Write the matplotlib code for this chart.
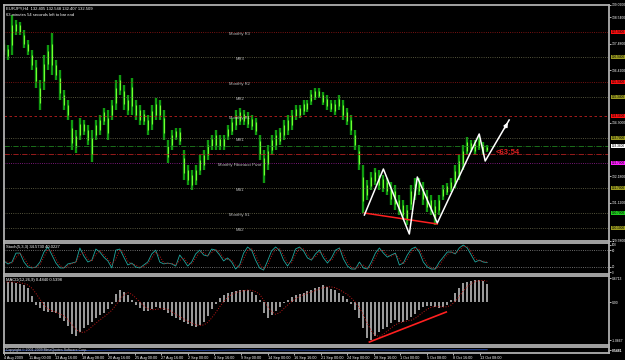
import numpy as np
import pandas as pd
import matplotlib
matplotlib.use("Agg")
import matplotlib.pyplot as plt
from matplotlib.transforms import blended_transform_factory

# EURJPY H4, one plotted bar per ~2.4 real bars
bar_high = [137.62, 137.42, 138.62, 138.42, 138.34, 138.02, 137.62, 137.22, 136.82, 136.02,
            137.02, 137.42, 137.90, 136.82, 136.42, 135.62, 135.22, 134.42, 134.02, 134.50,
            134.42, 134.22, 134.02, 134.42, 134.62, 134.90, 134.82, 135.22, 136.02, 136.22,
            135.82, 135.42, 136.10, 135.22, 135.02, 134.82, 134.62, 135.02, 135.30, 135.22,
            134.82, 133.62, 134.02, 134.10, 134.10, 133.22, 132.62, 132.42, 132.62, 133.02,
            133.22, 133.62, 133.82, 134.02, 133.82, 133.82, 134.22, 134.50, 134.82, 134.90,
            134.82, 134.74, 134.62, 134.50, 133.82, 133.22, 133.42, 133.82, 134.02, 134.10,
            134.42, 134.62, 134.82, 135.02, 135.02, 135.22, 135.22, 135.62, 135.70, 135.70,
            135.54, 135.42, 135.22, 135.22, 135.42, 135.22, 134.90, 134.62, 134.02, 133.42,
            132.62, 132.02, 132.34, 132.50, 132.42, 132.22, 132.10, 131.94, 131.82, 131.42,
            131.22, 131.02, 131.82, 132.10, 132.10, 131.94, 131.62, 131.42, 131.22, 131.42,
            131.82, 131.90, 132.10, 132.62, 133.02, 133.42, 133.74, 133.62, 133.62, 133.74,
            133.54, 133.42]
bar_low = [137.02, 136.82, 137.02, 137.82, 137.82, 137.30, 137.02, 136.42, 135.70, 134.82,
           135.62, 136.42, 136.22, 136.02, 135.22, 134.82, 134.42, 133.22, 133.10, 133.62,
           133.82, 133.42, 132.74, 133.62, 133.82, 134.22, 133.62, 134.42, 134.82, 135.42,
           134.82, 134.62, 134.62, 134.42, 134.22, 134.22, 133.82, 134.02, 134.42, 134.42,
           133.62, 132.70, 133.22, 133.62, 133.42, 132.02, 131.82, 131.62, 131.82, 132.22,
           132.42, 132.82, 133.22, 133.22, 133.22, 133.22, 133.62, 133.82, 134.02, 134.22,
           134.22, 134.10, 134.02, 133.82, 132.82, 131.90, 132.42, 133.02, 133.22, 133.42,
           133.62, 133.82, 134.02, 134.42, 134.50, 134.62, 134.74, 135.02, 135.22, 135.30,
           135.02, 134.82, 134.74, 134.62, 134.82, 134.42, 134.22, 133.82, 133.22, 132.42,
           130.70, 131.22, 131.62, 131.82, 131.62, 131.54, 131.42, 131.02, 130.82, 130.62,
           130.42, 130.22, 130.82, 131.22, 131.42, 131.02, 130.74, 130.62, 130.22, 130.62,
           131.22, 131.42, 131.54, 131.70, 132.02, 132.42, 133.02, 133.14, 133.02, 133.22,
           133.02, 133.14]

stoch_k = [40.7, 29.6, 37, 70, 70, 37, 18.5, 15, 18.5, 37, 74, 92.5, 63, 33, 15, 15, 30, 33, 37, 89,
           59, 37, 44, 85, 74, 55, 41, 15, 81, 85, 55, 26, 33, 18.5, 15, 26, 37, 67, 81, 37,
           30, 33, 30, 22, 63, 44, 22, 37, 67, 81, 63, 59, 85, 81, 63, 41, 52, 37, 11, 26,
           70, 92.5, 81, 44, 15, 7, 41, 78, 92.5, 81, 44, 22, 44, 85, 92.5, 78, 52, 44, 67, 81,
           52, 33, 52, 81, 89, 48, 22, 11, 11, 37, 15, 11, 37, 70, 89, 70, 55, 63, 70, 26,
           33, 63, 85, 92.5, 74, 37, 18.5, 11, 11, 37, 55, 74, 74, 67, 89, 100, 89, 63, 37, 44,
           37, 35]

macd = [0.56, 0.56, 0.56, 0.53, 0.50, 0.48, 0.39, 0.17, -0.08, -0.17, -0.25, -0.28, -0.28, -0.31,
        -0.45, -0.53, -0.67, -0.90, -0.95, -0.84, -0.73, -0.64, -0.56, -0.45, -0.36, -0.31, -0.20,
        -0.06, 0.22, 0.34, 0.28, 0.20, 0.06, -0.08, -0.17, -0.25, -0.25, -0.20, -0.14, -0.17, -0.22,
        -0.31, -0.39, -0.45, -0.50, -0.56, -0.62, -0.67, -0.70, -0.64, -0.56, -0.39, -0.20, -0.06,
        0.11, 0.20, 0.25, 0.28, 0.31, 0.34, 0.34, 0.34, 0.28, 0.20, 0.06, -0.31, -0.45, -0.36, -0.25,
        -0.14, -0.03, 0.06, 0.14, 0.20, 0.22, 0.25, 0.31, 0.34, 0.39, 0.42, 0.48, 0.42, 0.36, 0.34,
        0.25, 0.17, 0.08, -0.06, -0.22, -0.45, -0.73, -1.01, -1.06, -0.95, -0.84, -0.76, -0.70,
        -0.59, -0.50, -0.56, -0.56, -0.50, -0.42, -0.34, -0.22, -0.14, -0.11, -0.11, -0.14, -0.17,
        -0.14, -0.08, 0.06, 0.25, 0.39, 0.53, 0.56, 0.59, 0.62, 0.62, 0.59, 0.50]

demarker = [0.45, 0.48, 0.42, 0.50, 0.47, 0.44, 0.52, 0.49, 0.46, 0.51, 0.48, 0.53, 0.55]
demarker_bar = [0, 10, 20, 30, 40, 50, 60, 70, 80, 90, 100, 110, 121]

# hand-drawn zigzag and divergence lines
zz_bar = [90.25, 95, 101.5, 103.5, 108.5, 119, 120.5]
zz_price = [130.62, 132.46, 129.86, 132.14, 130.30, 133.86, 132.78]
arrow_tip = (126.5, 134.42)
div_bar = [90.25, 108.5]
div_price = [130.70, 130.26]
macd_div_bar = [91.5, 110.75]
macd_div_val = [-1.12, -0.28]

# monthly pivot levels: price, line color, style, box color, caption
levels = [
    (137.94, "#a01818", ":", "#ff1010", "Monthly R3"),
    (136.94, "#707050", ":", "#9a9a20", "MR3"),
    (135.94, "#a01818", ":", "#ff1010", "Monthly R2"),
    (135.34, "#707050", ":", "#9a9a20", "MR2"),
    (134.58, "#c02020", (0, (3, 3)), "#ff1010", "Monthly R1"),
    (133.70, "#707050", ":", "#9a9a20", "MR1"),
    (133.38, "#208020", "-.", "#ffffff", ""),
    (133.06, "#b02020", "-.", None, ""),
    (132.70, "#a020a0", ":", "#ff20ff", "Monthly Fibonacci Pivot"),
    (131.70, "#707050", ":", "#9a9a20", "MS1"),
    (130.70, "#707050", ":", "#20d020", "Monthly S1"),
    (130.10, "#707050", ":", "#9a9a20", "MS2"),
]
price_ticks = [139.02, 138.54, 137.48, 136.42, 134.30, 132.18, 131.12, 129.58]

date_labels = ["4 Aug 2009", "11 Aug 00:00", "13 Aug 16:00", "18 Aug 08:00", "20 Aug 16:00",
               "25 Aug 00:00", "27 Aug 16:00", "2 Sep 00:00", "4 Sep 16:00", "9 Sep 00:00",
               "14 Sep 00:00", "16 Sep 16:00", "21 Sep 00:00", "24 Sep 00:00", "28 Sep 16:00",
               "1 Oct 00:00", "5 Oct 08:00", "8 Oct 16:00", "13 Oct 08:00"]

plt.rcParams["font.family"] = ["Liberation Sans", "DejaVu Sans"]

W, H = 625, 360
FS = 3.0
AXFS = 2.4
GRID = "#b0b0b0"


def px_axes(fig, x0, y0, x1, y1):
    ax = fig.add_axes([x0 / W, 1 - y1 / H, (x1 - x0) / W, (y1 - y0) / H])
    ax.set_facecolor("black")
    for s in ax.spines.values():
        s.set_color(GRID)
        s.set_linewidth(1.3)
    ax.set_xlim(0, 151.5)
    ax.tick_params(axis="x", bottom=False, labelbottom=False)
    ax.yaxis.tick_right()
    ax.tick_params(axis="y", colors="white", labelsize=AXFS, length=1.5, width=0.5, pad=0.8)
    return ax


fig = plt.figure(figsize=(W / 100, H / 100), dpi=100, facecolor="black")

# --- main price window ---
ax = px_axes(fig, 4, 5, 609, 241)
ax.set_ylim(129.58, 139.02)
ax.set_yticks(price_ticks)
ax.set_yticklabels([f"{v:.4f}" for v in price_ticks])
x = np.arange(len(bar_high))
hi = np.array(bar_high)
lo = np.array(bar_low)
ax.vlines(x, lo, hi, color="#109a10", lw=1.7)
ax.vlines(x, lo + 0.25 * (hi - lo), hi - 0.25 * (hi - lo), color="#70ff30", lw=0.8)

yx = blended_transform_factory(ax.transAxes, ax.transData)
for price, lc, ls, box, cap in levels:
    ax.axhline(price, color=lc, ls=ls, lw=0.6)
    if cap:
        ax.text(59, price - 0.06, cap, color="#c0c0c0", fontsize=FS, ha="center", va="center")
    if box:
        ax.text(1.0045, price, f"{price:.4f}", transform=yx, color="black", fontsize=AXFS * 0.95,
                ha="left", va="center", clip_on=False,
                bbox=dict(boxstyle="square,pad=0.12", fc=box, ec="none"))

ax.plot(div_bar, div_price, color="#ff2020", lw=1.1)
ax.plot(zz_bar + [arrow_tip[0]], zz_price + [arrow_tip[1]], color="white", lw=1.1)
ax.annotate("", xy=arrow_tip, xytext=(zz_bar[-1] + 4.5, zz_price[-1] + 1.2),
            arrowprops=dict(arrowstyle="-|>", color="white", lw=1.0, mutation_scale=6))
ax.text(123.2, 133.12, "<63:54", color="#e02020", fontsize=5.5, ha="left", va="center",
        fontweight="bold")
ax.text(0.004, 0.995, "EURJPY,H4  132.405 132.548 132.407 132.509", transform=ax.transAxes,
        color="white", fontsize=FS, ha="left", va="top")
ax.text(0.004, 0.968, "63 minutes 54 seconds left to bar end", transform=ax.transAxes,
        color="white", fontsize=FS, ha="left", va="top")

# --- stochastic window ---
ax2 = px_axes(fig, 4, 243, 609, 274)
ax2.set_ylim(-7.4, 107.4)
ax2.set_yticks([100, 80, 20, 0])
ax2.set_yticklabels(["100", "80", "20", "0"])
ax2.tick_params(axis="y", labelsize=AXFS * 0.85)
k = pd.Series(stoch_k)
ax2.axhline(80, color="#909090", ls=":", lw=0.6)
ax2.axhline(20, color="#909090", ls=":", lw=0.6)
ax2.plot(k.index, k.values, color="#20a8a0", lw=0.6)
ax2.plot(k.index, k.rolling(2, min_periods=1).mean(), color="#c01818", ls=":", lw=0.7)
ax2.text(0.004, 0.93, "Stoch(5,3,3) 34.5730 40.0227", transform=ax2.transAxes,
         color="white", fontsize=FS, ha="left", va="top")

# --- MACD window ---
ax3 = px_axes(fig, 4, 276, 609, 345)
ax3.set_ylim(-1.204, 0.728)
ax3.set_yticks([0.6713, 0.0, -1.0667])
ax3.set_yticklabels(["0.6713", "0.00", "-1.0667"])
m = pd.Series(macd)
ax3.vlines(m.index, 0, m.values, color="#c8c8c8", lw=1.1)
ax3.plot(m.index, m.rolling(4, min_periods=1).mean(), color="#c01818", ls=":", lw=0.7)
ax3.plot(macd_div_bar, macd_div_val, color="#ff2020", lw=1.2)
ax3.text(0.004, 0.97, "MACD(12,26,9) 0.4840 0.5398", transform=ax3.transAxes,
         color="white", fontsize=FS, ha="left", va="top")

# --- small bottom window ---
ax4 = px_axes(fig, 4, 347, 609, 353)
ax4.set_ylim(0, 1)
ax4.set_yticks([0.5])
ax4.set_yticklabels(["0.5481"], fontweight="bold")
ax4.plot(demarker_bar, demarker, color="#2848a0", lw=0.7)
ax4.text(0.004, 0.5, "Copyright \u00a9 2001-2009 MetaQuotes Software Corp.", transform=ax4.transAxes,
         color="#d0d0d0", fontsize=FS * 0.85, ha="left", va="center")

tick_pos = [max(0.0, 6.65 * i - 0.5) for i in range(len(date_labels))]
ax4.set_xticks(tick_pos)
ax4.set_xticklabels(date_labels)
ax4.tick_params(axis="x", bottom=True, labelbottom=True, colors="white", labelsize=2.7,
                length=1.5, width=0.5, pad=0.5)
for lab in ax4.get_xticklabels():
    lab.set_ha("left")

fig.savefig("out.png", dpi=100, facecolor="black")
